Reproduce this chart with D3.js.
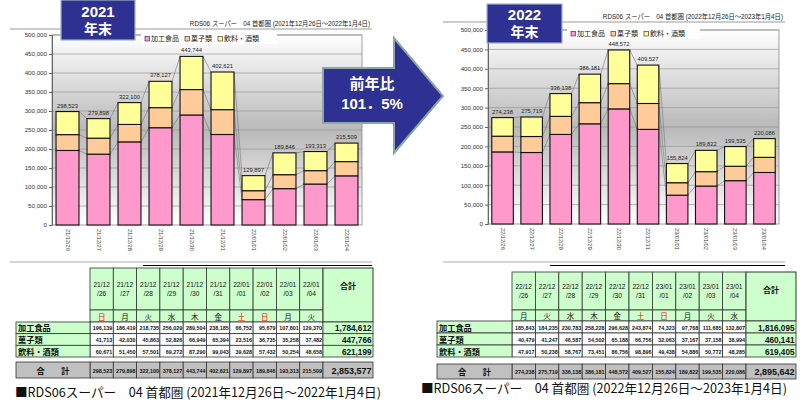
<!DOCTYPE html>
<html><head><meta charset="utf-8">
<script src="https://cdn.jsdelivr.net/npm/d3@7"></script>
<style>
html,body{margin:0;padding:0;background:#fff;}
svg text{font-family:"Liberation Sans",Arial,"Noto Sans CJK JP",sans-serif;}
</style></head>
<body><svg id="c" width="800" height="408"></svg>
<script>
// ---- data ----
const series = ["加工食品","菓子類","飲料・酒類"];
const colors = ["#ff99cc","#ffcc99","#ffff99"];
const yTicks = [0,50000,100000,150000,200000,250000,300000,350000,400000,450000,500000];

const dates2021 = ["21/12/26","21/12/27","21/12/28","21/12/29","21/12/30","21/12/31","22/01/01","22/01/02","22/01/03","22/01/04"];
const days2021 = ["日","月","火","水","木","金","土","日","月","火"];
const kakou2021 = [196139,186419,218735,256029,289504,238185,66752,95679,107801,129370];
const kashi2021 = [41713,42030,45863,52826,66949,65394,23516,36735,35258,37482];
const inryo2021 = [60671,51450,57501,69272,87290,99043,39628,57432,50254,48658];
const total2021 = [298523,279898,322100,378127,443744,402621,129897,189846,193313,215509];
const rowTotals2021 = [1784612,447766,621199];
const grand2021 = 2853577;

const dates2022 = ["22/12/26","22/12/27","22/12/28","22/12/29","22/12/30","22/12/31","23/01/01","23/01/02","23/01/03","23/01/04"];
const days2022 = ["月","火","水","木","金","土","日","月","火","水"];
const kakou2022 = [185843,184235,230783,258228,296628,243874,74323,97768,111685,132807];
const kashi2022 = [40479,41247,46587,54502,65188,66756,32063,37167,37158,38994];
const inryo2022 = [47917,50238,58767,73451,86756,98896,49438,54886,50772,48285];
const total2022 = [274238,275719,336138,386181,448572,409527,155824,189822,199535,220086];
const rowTotals2022 = [1816095,460141,619405];
const grand2022 = 2895642;

const svg = d3.select("#c");
const fmt = d3.format(",");
const defs = svg.append("defs");
const grad = defs.append("linearGradient").attr("id","bg").attr("x1",0).attr("y1",0).attr("x2",0).attr("y2",1);
grad.append("stop").attr("offset","0%").attr("stop-color","#ffffff");
grad.append("stop").attr("offset","50%").attr("stop-color","#b9b9b9");
grad.append("stop").attr("offset","100%").attr("stop-color","#ffffff");

function panel(p){
  const g = svg.append("g");
  // top gray rule and chart title
  g.append("line").attr("x1",p.ruleX0).attr("x2",p.ruleX1).attr("y1",p.ruleY).attr("y2",p.ruleY).attr("stroke","#999").attr("stroke-width",1);
  g.append("text").attr("x",p.ruleX1-2).attr("y",p.ruleY-3).attr("text-anchor","end").attr("font-size",6.3).attr("fill","#222").text(p.title);

  const x = d3.scaleBand().domain(p.dates).range([p.px0,p.px1]).paddingInner(0.26).paddingOuter(0.13);
  const y = d3.scaleLinear().domain([0,500000]).range([p.py1,p.py0]);
  // plot background
  g.append("rect").attr("x",p.px0).attr("y",p.py0).attr("width",p.px1-p.px0).attr("height",p.py1-p.py0).attr("fill","url(#bg)").attr("stroke","#888").attr("stroke-width",0.8);
  // grid
  g.selectAll(".grid").data(yTicks.slice(1)).join("line").attr("x1",p.px0).attr("x2",p.px1).attr("y1",d=>y(d)).attr("y2",d=>y(d)).attr("stroke","#999").attr("stroke-width",0.7);
  // y axis
  const ya = g.append("g").attr("transform",`translate(${p.px0},0)`).call(d3.axisLeft(y).tickValues(yTicks).tickFormat(d=>d===0?"0":fmt(d)).tickSize(3).tickPadding(2));
  ya.select(".domain").attr("stroke","#666");
  ya.selectAll(".tick line").attr("stroke","#666");
  ya.selectAll("text").attr("font-size",6.2).attr("fill","#333");

  const vals = [p.s0,p.s1,p.s2];
  const stacked = p.dates.map((d,i)=>{let c=0;return vals.map(v=>{const a=c;c+=v[i];return [a,c];});});
  // series lines
  for(let k=0;k<3;k++){
    for(let i=0;i<p.dates.length-1;i++){
      g.append("line").attr("x1",x(p.dates[i])+x.bandwidth()).attr("y1",y(stacked[i][k][1]))
        .attr("x2",x(p.dates[i+1])).attr("y2",y(stacked[i+1][k][1])).attr("stroke","#777").attr("stroke-width",0.6);
    }
  }
  // bars
  p.dates.forEach((d,i)=>{
    for(let k=0;k<3;k++){
      g.append("rect").attr("x",x(d)).attr("width",x.bandwidth())
        .attr("y",y(stacked[i][k][1])).attr("height",y(stacked[i][k][0])-y(stacked[i][k][1]))
        .attr("fill",colors[k]).attr("stroke","#111").attr("stroke-width",1.1);
    }
    g.append("text").attr("x",x(d)+x.bandwidth()/2).attr("y",y(p.tot[i])-4).attr("text-anchor","middle").attr("font-size",5.8).attr("fill","#222").text(fmt(p.tot[i]));
    g.append("text").attr("transform",`translate(${x(d)+x.bandwidth()/2-2},${p.py1+4}) rotate(90)`).attr("font-size",5.6).attr("fill","#333").text(d);
  });
  // legend
  g.append("rect").attr("x",p.lx).attr("y",p.ly).attr("width",p.lw).attr("height",11).attr("fill","#fff");
  let lx = p.lx+4;
  series.forEach((s,k)=>{
    g.append("rect").attr("x",lx).attr("y",p.ly+3.5).attr("width",4.5).attr("height",4.5).attr("fill",colors[k]).attr("stroke","#222").attr("stroke-width",0.6);
    const t = g.append("text").attr("x",lx+6).attr("y",p.ly+8.3).attr("font-size",7).attr("fill","#222").text(s);
    lx += 6 + t.node().getComputedTextLength() + 6;
  });
  // year box
  g.append("rect").attr("x",p.bx).attr("y",p.by).attr("width",p.bw).attr("height",p.bh).attr("fill","#2e3192").attr("stroke","#9fb3c8").attr("stroke-width",1.2);
  g.append("text").attr("x",p.bx+p.bw/2).attr("y",p.by+p.bh*0.42).attr("text-anchor","middle").attr("font-size",15).attr("font-weight","bold").attr("fill","#fff").text(p.year);
  g.append("text").attr("x",p.bx+p.bw/2).attr("y",p.by+p.bh*0.85).attr("text-anchor","middle").attr("font-size",14).attr("font-weight","bold").attr("fill","#fff").text("年末");

  // table
  const t = p.t;
  const tg = svg.append("g");
  tg.append("line").attr("x1",t.r0).attr("x2",t.r1).attr("y1",262).attr("y2",262).attr("stroke","#aaa").attr("stroke-width",1);
  tg.append("line").attr("x1",t.b0).attr("x2",t.r1).attr("y1",265.5).attr("y2",265.5).attr("stroke","#000").attr("stroke-width",1.2);
  const cx = d3.scaleBand().domain(p.dates).range([t.dx0,t.dx1]);
  const cw = cx.bandwidth();
  const rowY = d3.scaleBand().domain(series).range([t.dayB,t.dataB]);
  const cell=(x0,y0,w,h,fill,sw)=>tg.append("rect").attr("x",x0).attr("y",y0).attr("width",w).attr("height",h).attr("fill",fill).attr("stroke","#333").attr("stroke-width",sw||0.8);
  p.dates.forEach((d,i)=>{
    const x0 = cx(d);
    cell(x0,t.top,cw,t.dateB-t.top,"#ccffcc");
    const parts = d.split("/");
    tg.append("text").attr("x",x0+cw/2).attr("y",t.top+(t.dateB-t.top)*0.45).attr("text-anchor","middle").attr("font-size",6.6).attr("fill","#111").text(parts[0]+"/"+parts[1]);
    tg.append("text").attr("x",x0+cw/2).attr("y",t.top+(t.dateB-t.top)*0.45+9).attr("text-anchor","middle").attr("font-size",6.6).attr("fill","#111").text("/"+parts[2]);
    cell(x0,t.dateB,cw,t.dayB-t.dateB,"#ccffcc");
    const red = p.days[i]==="日"||p.days[i]==="土";
    tg.append("text").attr("x",x0+cw/2).attr("y",t.dayB-2.5).attr("text-anchor","middle").attr("font-size",7.5).attr("fill",red?"#ff0000":"#111").text(p.days[i]);
    series.forEach((s,k)=>{
      cell(x0,rowY(s),cw,rowY.bandwidth(),"#fff");
      tg.append("text").attr("x",x0+cw-1).attr("y",rowY(s)+rowY.bandwidth()-3.2).attr("text-anchor","end").attr("font-size",5.4).attr("font-weight","bold").attr("fill","#111").text(fmt(vals[k][i]));
    });
    cell(x0,t.totT,cw,t.totB-t.totT,"#c0c0c0");
    tg.append("text").attr("x",x0+cw-1).attr("y",t.totB-5.5).attr("text-anchor","end").attr("font-size",5.4).attr("font-weight","bold").attr("fill","#111").text(fmt(p.tot[i]));
  });
  // total column
  cell(t.dx1,t.top,t.tw,t.dayB-t.top,"#ccffcc",1);
  tg.append("text").attr("x",t.dx1+t.tw/2).attr("y",t.top+21).attr("text-anchor","middle").attr("font-size",8).attr("font-weight","bold").attr("fill","#111").text("合計");
  series.forEach((s,k)=>{
    cell(t.lx0,rowY(s),t.dx0-t.lx0,rowY.bandwidth(),"#ccffcc");
    tg.append("text").attr("x",t.lx0+2).attr("y",rowY(s)+rowY.bandwidth()-2.3).attr("font-size",8.2).attr("font-weight","bold").attr("fill","#111").text(s);
    cell(t.dx1,rowY(s),t.tw,rowY.bandwidth(),"#ccffcc");
    tg.append("text").attr("x",t.dx1+t.tw-1.5).attr("y",rowY(s)+rowY.bandwidth()-2.3).attr("text-anchor","end").attr("font-size",8.2).attr("font-weight","bold").attr("fill","#111").text(fmt(p.rowTot[k]));
  });
  cell(t.lx0,t.totT,t.dx0-t.lx0,t.totB-t.totT,"#c0c0c0");
  tg.append("text").attr("x",(t.lx0+t.dx0)/2).attr("y",t.totB-4.5).attr("text-anchor","middle").attr("font-size",8.2).attr("font-weight","bold").attr("fill","#111").text("合　　計");
  cell(t.dx1,t.totT,t.tw,t.totB-t.totT,"#c0c0c0");
  tg.append("text").attr("x",t.dx1+t.tw-1.5).attr("y",t.totB-4.5).attr("text-anchor","end").attr("font-size",9).attr("font-weight","bold").attr("fill","#111").text(fmt(p.grand));
  // caption: size the font so it spans the target width
  const cap = svg.append("text").attr("x",t.cx).attr("y",t.cy).attr("font-size",13).attr("fill","#111")
    .style("font-family","'Noto Sans CJK JP','Noto Sans',sans-serif").text(p.caption);
  const w = cap.node().getComputedTextLength();
  cap.attr("font-size",(13*t.cw/w).toFixed(2));
}

panel({
  year:"2021", dates:dates2021, days:days2021, s0:kakou2021, s1:kashi2021, s2:inryo2021, tot:total2021, rowTot:rowTotals2021, grand:grand2021,
  title:"RDS06 スーパー　04 首都圏 (2021年12月26日～2022年1月4日)",
  caption:"■RDS06スーパー　04 首都圏 (2021年12月26日～2022年1月4日)",
  ruleX0:10, ruleX1:372, ruleY:29,
  px0:52, px1:362, py0:35, py1:225,
  lx:141, ly:33, lw:136,
  bx:61, by:0, bw:74, bh:40,
  t:{r0:10,r1:372,b0:143,lx0:16,dx0:90,dx1:323,tw:50,top:268,dateB:310,dayB:322,dataB:357,totT:362,totB:378,cx:15,cy:397,cw:366}
});
panel({
  year:"2022", dates:dates2022, days:days2022, s0:kakou2022, s1:kashi2022, s2:inryo2022, tot:total2022, rowTot:rowTotals2022, grand:grand2022,
  title:"RDS06 スーパー　04 首都圏 (2022年12月26日～2023年1月4日)",
  caption:"■RDS06スーパー　04 首都圏 (2022年12月26日～2023年1月4日)",
  ruleX0:443, ruleX1:785, ruleY:22,
  px0:488, px1:779, py0:30, py1:224,
  lx:567, ly:28, lw:133,
  bx:487, by:4, bw:75, bh:39,
  t:{r0:443,r1:785,b0:550,lx0:437,dx0:512,dx1:746,tw:50,top:272,dateB:310,dayB:321,dataB:357,totT:364,totB:379,cx:421,cy:393,cw:366}
});

// arrow
const arrowPts = [[323,68],[394,68],[394,38],[443,96],[394,153],[394,123],[323,123]];
svg.append("path").attr("d",d3.line()(arrowPts)+"Z").attr("fill","#2e3192").attr("stroke","#8aa6a6").attr("stroke-width",2);
svg.append("text").attr("x",372).attr("y",89).attr("text-anchor","middle").attr("font-size",15).attr("font-weight","bold").attr("fill","#fff").text("前年比");
svg.append("text").attr("x",372).attr("y",109).attr("text-anchor","middle").attr("font-size",15).attr("font-weight","bold").attr("fill","#fff").text("101．5%");
</script></body></html>
